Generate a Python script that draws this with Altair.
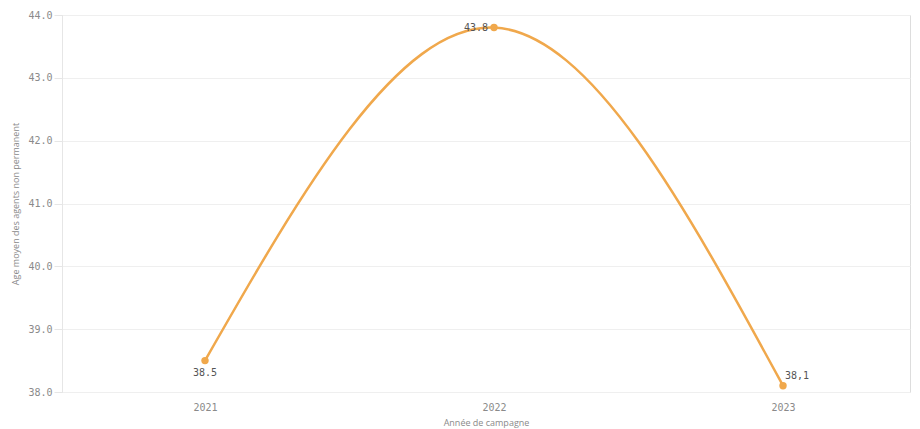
import altair as alt
import pandas as pd

years = [2021, 2022, 2023]
ages = [38.5, 43.8, 38.1]
labels = ["38.5", "43.8", "38,1"]

df = pd.DataFrame({"year": years, "age": ages, "label": labels})

ORANGE = "#F0A84C"
NUMFONT = "DejaVu Sans Mono"

x = alt.X("year:Q",
          scale=alt.Scale(domain=[2020.5052, 2023.4394], nice=False, zero=False),
          axis=alt.Axis(values=years, format="d", title="Année de campagne",
                        grid=False, domain=False, ticks=False,
                        labelFont=NUMFONT, labelFontSize=10, labelColor="#8a8a8a",
                        labelPadding=10, titleFont="Open Sans", titleFontSize=9,
                        titleColor="#8a8a8a", titleFontWeight="normal", titlePadding=6))
y = alt.Y("age:Q",
          scale=alt.Scale(domain=[38, 44], nice=False, zero=False),
          axis=alt.Axis(values=[38, 39, 40, 41, 42, 43, 44], format=".1f",
                        title="Age moyen des agents non permanent",
                        grid=True, gridColor="#efefef", domain=True, domainColor="#e6e6e6",
                        ticks=True, tickColor="#e6e6e6", tickSize=8,
                        labelFont=NUMFONT, labelFontSize=10, labelColor="#8a8a8a",
                        labelPadding=2, titleFont="Open Sans", titleFontSize=9,
                        titleColor="#8a8a8a", titleFontWeight="normal", titlePadding=7))

base = alt.Chart(df)

line = base.mark_line(color=ORANGE, strokeWidth=2.5, interpolate="natural").encode(x=x, y=y)
pts = base.mark_point(color=ORANGE, filled=True, opacity=1, size=55).encode(x=x, y=y)

lab1 = base.transform_filter("datum.year == 2021").mark_text(
    font=NUMFONT, fontSize=10, color="#555555", dy=12, align="center", baseline="middle"
).encode(x=x, y=y, text="label:N")
lab2 = base.transform_filter("datum.year == 2022").mark_text(
    font=NUMFONT, fontSize=10, color="#555555", dx=-6, align="right", baseline="middle"
).encode(x=x, y=y, text="label:N")
lab3 = base.transform_filter("datum.year == 2023").mark_text(
    font=NUMFONT, fontSize=10, color="#555555", dx=2, dy=-10, align="left", baseline="middle"
).encode(x=x, y=y, text="label:N")

chart = alt.layer(line, pts, lab1, lab2, lab3).properties(
    width=848, height=377,
    autosize=alt.AutoSizeParams(type="none"),
    padding={"left": 54, "top": 7, "right": 2, "bottom": 36},
).configure_view(stroke=None).configure(background="white")

chart.save("out.html", embed_options={"renderer": "svg", "actions": False})
